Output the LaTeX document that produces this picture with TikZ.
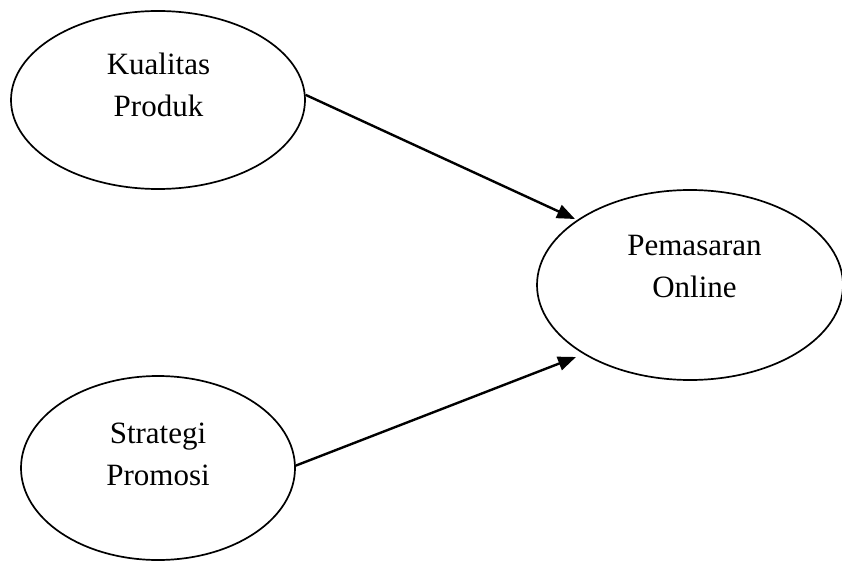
\documentclass[tikz,border=0pt]{standalone}
\usepackage{fontspec}
\setmainfont{Liberation Serif}
\usetikzlibrary{shapes.geometric,arrows.meta}
\begin{document}
\begin{tikzpicture}[x=1pt,y=-1pt,
  oval/.style={draw=black,line width=1.7pt,ellipse,inner sep=0pt},
  lbl/.style={anchor=base,align=center,inner sep=0pt,font=\fontsize{31}{42}\selectfont},
  arr/.style={line width=2.4pt,-{Triangle[length=18pt,width=14pt]}}]
\useasboundingbox (0,0) rectangle (842,561);
\node[oval,minimum width=294pt,minimum height=178pt] (k) at (158,100) {};
\node[oval,minimum width=306pt,minimum height=190pt] (p) at (690,285) {};
\node[oval,minimum width=274pt,minimum height=184pt] (s) at (158,468) {};
\node[lbl] (kt) at (158.5,117) {Kualitas\\Produk};
\node[lbl] (pt) at (694.5,297) {Pemasaran\\Online};
\node[lbl] (st) at (158,485) {Strategi\\Promosi};
\coordinate (t1) at (575,219);
\coordinate (t2) at (576,357);
\draw[arr] (k.2) -- (t1);
\draw[arr] (s.1) -- (t2);
\end{tikzpicture}
\end{document}
